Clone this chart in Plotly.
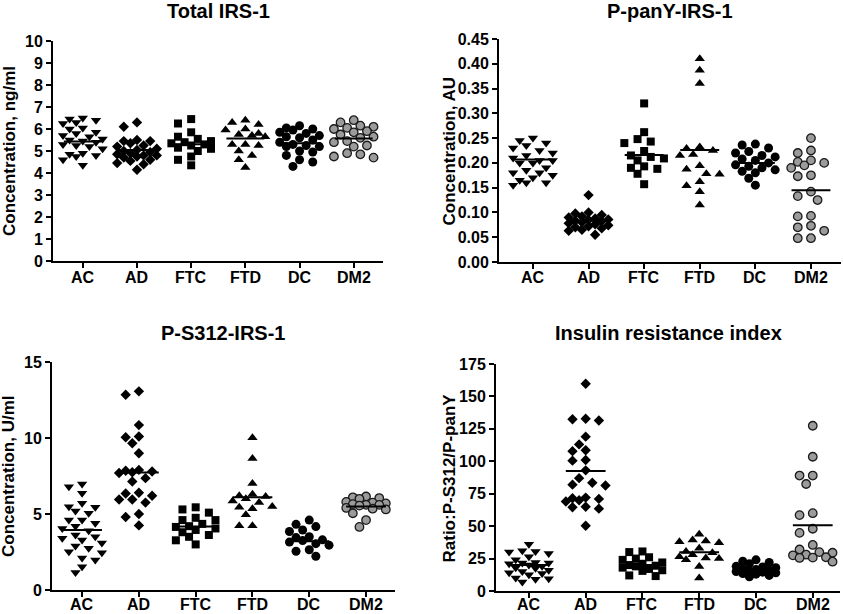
import numpy as np
import plotly.graph_objects as go

categories = ["AC", "AD", "FTC", "FTD", "DC", "DM2"]

# ---------------- Panel 1: Total IRS-1 (ng/ml)
total_AC = [6.5, 6.45, 6.4, 6.3, 6.25, 6.05, 6.0, 5.85, 5.8, 5.7, 5.65, 5.55, 5.5,
            5.45, 5.4, 5.3, 5.25, 5.2, 5.1, 4.9, 4.85, 4.8, 4.75, 4.6, 4.35]
total_AD = [6.3, 6.1, 5.5, 5.45, 5.45, 5.35, 5.25, 5.2, 5.1, 5.05, 5.0, 4.95, 4.9,
            4.85, 4.8, 4.8, 4.75, 4.7, 4.6, 4.55, 4.45, 4.4, 4.15]
total_FTC = [6.45, 6.25, 5.85, 5.65, 5.55, 5.45, 5.4, 5.35, 5.3, 5.25, 5.15, 5.1,
             5.0, 4.75, 4.6, 4.35]
total_FTD = [6.4, 6.3, 6.2, 6.0, 5.95, 5.8, 5.75, 5.7, 5.65, 5.3, 5.3, 5.25, 5.0,
             4.8, 4.6, 4.25]
total_DC = [6.15, 6.05, 6.0, 5.95, 5.85, 5.8, 5.7, 5.65, 5.6, 5.5, 5.4, 5.3, 5.25,
            5.2, 5.2, 5.0, 4.95, 4.8, 4.6, 4.5, 4.3]
total_DM2 = [6.4, 6.3, 6.15, 6.1, 6.05, 6.0, 5.9, 5.85, 5.75, 5.65, 5.6, 5.45, 5.4,
             5.25, 5.2, 4.9, 4.85, 4.75, 4.7]
total_means = [5.43, 5.05, 5.31, 5.57, 5.35, 5.57]

# ---------------- Panel 2: P-panY-IRS-1 (AU)
pany_AC = [0.25, 0.245, 0.24, 0.235, 0.23, 0.225, 0.22, 0.215, 0.21, 0.205, 0.205,
           0.2, 0.2, 0.19, 0.185, 0.18, 0.18, 0.175, 0.17, 0.165, 0.16, 0.16, 0.155]
pany_AD = [0.135, 0.1, 0.098, 0.095, 0.092, 0.09, 0.088, 0.086, 0.085, 0.083, 0.082,
           0.08, 0.078, 0.076, 0.074, 0.072, 0.07, 0.068, 0.065, 0.063, 0.055]
pany_FTC = [0.32, 0.262, 0.248, 0.243, 0.24, 0.224, 0.215, 0.212, 0.209, 0.205,
            0.193, 0.19, 0.188, 0.178, 0.157]
pany_FTD = [0.41, 0.387, 0.36, 0.232, 0.229, 0.225, 0.217, 0.215, 0.194, 0.187,
            0.178, 0.177, 0.162, 0.154, 0.142, 0.115]
pany_DC = [0.238, 0.236, 0.23, 0.223, 0.22, 0.215, 0.212, 0.208, 0.205, 0.2, 0.196,
           0.193, 0.19, 0.186, 0.183, 0.18, 0.169, 0.155]
pany_DM2 = [0.25, 0.225, 0.22, 0.205, 0.2, 0.202, 0.195, 0.19, 0.175, 0.173, 0.142,
            0.133, 0.125, 0.093, 0.092, 0.073, 0.07, 0.063, 0.048, 0.048]
pany_means = [0.207, 0.083, 0.216, 0.226, 0.200, 0.145]

# ---------------- Panel 3: P-S312-IRS-1 (U/ml)
s312_AC = [6.97, 6.8, 6.36, 5.7, 5.48, 5.44, 5.2, 5.05, 4.6, 4.6, 4.39, 4.2, 4.05,
           3.9, 3.62, 3.51, 3.4, 3.29, 3.1, 2.9, 2.74, 2.52, 2.45, 2.1, 1.97, 1.53, 1.15]
s312_AD = [13.07, 12.85, 10.85, 10.1, 10.05, 9.65, 9.0, 7.9, 7.85, 7.8, 7.75, 7.7,
           7.36, 7.14, 6.4, 6.35, 6.2, 5.95, 5.95, 5.75, 5.0, 4.8, 4.25]
s312_FTC = [5.44, 5.3, 5.09, 4.75, 4.6, 4.6, 4.35, 4.2, 4.15, 4.05, 3.95, 3.8, 3.62,
            3.5, 3.27, 3.0]
s312_FTD = [10.02, 8.65, 7.0, 6.3, 6.2, 6.15, 6.0, 5.85, 5.75, 5.5, 5.45, 5.35,
            4.95, 4.22, 4.22]
s312_DC = [4.6, 4.32, 4.17, 3.95, 3.85, 3.5, 3.45, 3.3, 3.25, 3.15, 3.05, 2.95,
           2.65, 2.55, 2.22]
s312_DM2 = [6.15, 6.1, 6.05, 6.0, 5.8, 5.75, 5.7, 5.65, 5.6, 5.6, 5.55, 5.4, 5.35,
            5.3, 5.05, 4.6, 4.15]
s312_means = [3.95, 7.73, 4.17, 6.1, 3.2, 5.49]

# ---------------- Panel 4: Insulin resistance index
iri_AC = [36, 31, 30.5, 30, 29, 26.5, 24, 22, 21.5, 21.5, 21, 20, 19, 18, 17.5, 16,
          15, 14, 13.5, 12.5, 10, 9.5, 9, 7]
iri_AD = [159.8, 132.8, 131.5, 132.4, 119, 113, 108.5, 107.8, 101, 100.5, 93, 87,
          83.5, 82, 81.3, 72, 71.5, 71, 70, 69, 65, 64.6, 63.5, 50.3]
iri_FTC = [30.5, 30, 26, 25, 24, 22, 21, 20, 19.5, 19, 18, 17, 16, 15.5, 12, 11.5]
iri_FTD = [43.7, 39.4, 38.5, 38, 37.2, 33, 30.5, 29.5, 28, 26.5, 25.5, 25, 24,
           18.8, 10]
iri_DC = [24, 23, 22, 21, 19, 18.5, 18, 17, 16.5, 16, 15.5, 15, 14.5, 14, 13.5, 13,
          12, 11]
iri_DM2 = [127.4, 103.5, 89, 89, 82.5, 60, 58.5, 48, 44.8, 35.5, 32, 30, 29.5, 28,
           27.5, 26, 25.7, 25.5, 22.6]
iri_means = [20.0, 92.5, 20.0, 29.8, 16.5, 50.6]

panel_titles = ["Total IRS-1", "P-panY-IRS-1", "P-S312-IRS-1", "Insulin resistance index"]
y_titles = ["Concentration, ng/ml", "Concentration, AU", "Concentration, U/ml",
            "Ratio:P-S312/P-panY"]
y_ticks = [list(range(0, 11)),
           [0.0, 0.05, 0.10, 0.15, 0.20, 0.25, 0.30, 0.35, 0.40, 0.45],
           [0, 5, 10, 15],
           [0, 25, 50, 75, 100, 125, 150, 175]]
y_ticktext = [[str(v) for v in y_ticks[0]],
              ["%.2f" % v for v in y_ticks[1]],
              [str(v) for v in y_ticks[2]],
              [str(v) for v in y_ticks[3]]]

panel_data = [
    [total_AC, total_AD, total_FTC, total_FTD, total_DC, total_DM2],
    [pany_AC, pany_AD, pany_FTC, pany_FTD, pany_DC, pany_DM2],
    [s312_AC, s312_AD, s312_FTC, s312_FTD, s312_DC, s312_DM2],
    [iri_AC, iri_AD, iri_FTC, iri_FTD, iri_DC, iri_DM2],
]
panel_means = [total_means, pany_means, s312_means, iri_means]

# ---------------- layout geometry (pixels)
W, H = 843, 614
boxes = [(53, 383, 41, 261), (499, 841, 39, 262), (52, 395, 362, 590), (496, 840, 364, 591)]
x_ranges = [(-0.55, 5.54), (-0.61, 5.54), (-0.53, 5.51), (-0.58, 5.48)]
y_ranges = [(0, 10), (0, 0.45), (0, 15), (0, 175)]
ytitle_x = [9, 449, 8, 449]
xlabel_gap = [16, 15, 14, 13]

symbols = ["triangle-down", "diamond", "square", "triangle-up", "circle", "circle"]
sizes = [9, 8, 8, 9, 9, 8.5]
fills = ["black", "black", "black", "black", "black", "#9b9b9b"]
edges = ["black", "black", "black", "black", "black", "#1a1a1a"]
edge_w = [0, 0, 0, 0, 0, 1.3]

FONT = "Liberation Sans, Arial, Helvetica, sans-serif"


def swarm_offsets(vals, ppy, d, step, maxoff):
    vals = np.asarray(vals, float)
    order = np.argsort(-vals, kind="stable")
    cands = [0.0]
    k = 1
    while k * step <= maxoff + 1e-9:
        cands += [-k * step, k * step]
        k += 1
    placed = []
    out = np.zeros(len(vals))
    for i in order:
        y = vals[i] * ppy
        best, bestd = None, -1.0
        for c in cands:
            md = min([np.hypot(c - px, y - py) for px, py in placed] or [1e9])
            if md >= d:
                best = c
                break
            if md > bestd:
                bestd, best = md, c
        placed.append((best, y))
        out[i] = best
    return out


fig = go.Figure()
annotations = []
for p in range(4):
    x0, x1, y0, y1 = boxes[p]
    xr, yr = x_ranges[p], y_ranges[p]
    ppx = (x1 - x0) / (xr[1] - xr[0])
    ppy = (y1 - y0) / (yr[1] - yr[0])
    sfx = "" if p == 0 else str(p + 1)
    xa, ya = "x" + sfx, "y" + sfx
    for c in range(6):
        vals = panel_data[p][c]
        offs = swarm_offsets(vals, ppy, 8.5, 6.6, 20)
        xs = [c + o / ppx for o in offs]
        fig.add_trace(go.Scatter(
            x=xs, y=vals, mode="markers", xaxis=xa, yaxis=ya, showlegend=False,
            cliponaxis=False,
            marker=dict(symbol=symbols[c], size=sizes[c], color=fills[c],
                        line=dict(color=edges[c], width=edge_w[c])),
            hoverinfo="y"))
    for c in range(6):
        m = panel_means[p][c]
        fig.add_trace(go.Scatter(
            x=[c - 0.35, c + 0.35], y=[m, m], mode="lines", xaxis=xa, yaxis=ya,
            showlegend=False, line=dict(color="black", width=2), hoverinfo="skip"))

    axis_common = dict(showline=True, linecolor="black", linewidth=2, ticks="outside",
                       ticklen=5, tickwidth=2, tickcolor="black", showgrid=False,
                       zeroline=False, fixedrange=True, automargin=False,
                       tickfont=dict(family=FONT, size=16, color="black", weight="bold"))
    fig.layout["xaxis" + sfx] = dict(
        domain=[x0 / W, x1 / W], range=list(xr), anchor=ya, showticklabels=False,
        tickmode="array", tickvals=list(range(6)), **axis_common)
    fig.layout["yaxis" + sfx] = dict(
        domain=[(H - y1) / H, (H - y0) / H], range=list(yr), anchor=xa,
        tickmode="array", tickvals=y_ticks[p], ticktext=y_ticktext[p], **axis_common)

    # category labels under the x axis
    for c, lab in enumerate(categories):
        annotations.append(dict(
            text=lab, x=c, xref=xa, y=1 - (y1 + xlabel_gap[p]) / H, yref="paper",
            xanchor="center", yanchor="middle", showarrow=False, borderpad=0,
            font=dict(family=FONT, size=16, color="black", weight="bold")))

    title_y = 11 if p < 2 else 333
    annotations.append(dict(
        text=panel_titles[p], x=(x0 + x1) / 2 / W, y=1 - title_y / H, xref="paper",
        yref="paper", xanchor="center", yanchor="middle", showarrow=False,
        font=dict(family=FONT, size=20, color="black", weight="bold")))
    annotations.append(dict(
        text=y_titles[p], x=ytitle_x[p] / W, y=1 - (y0 + y1) / 2 / H, xref="paper",
        yref="paper", xanchor="center", yanchor="middle", showarrow=False,
        textangle=-90,
        font=dict(family=FONT, size=17, color="black", weight="bold")))

fig.update_layout(
    width=W, height=H, margin=dict(l=0, r=0, t=0, b=0, autoexpand=False),
    paper_bgcolor="white", plot_bgcolor="white",
    annotations=annotations, showlegend=False)

fig.write_html(
    "out.html",
    config={"displayModeBar": False},
    post_script="document.body.style.margin='0px';document.body.style.padding='0px';"
                "document.body.style.overflow='hidden';")
